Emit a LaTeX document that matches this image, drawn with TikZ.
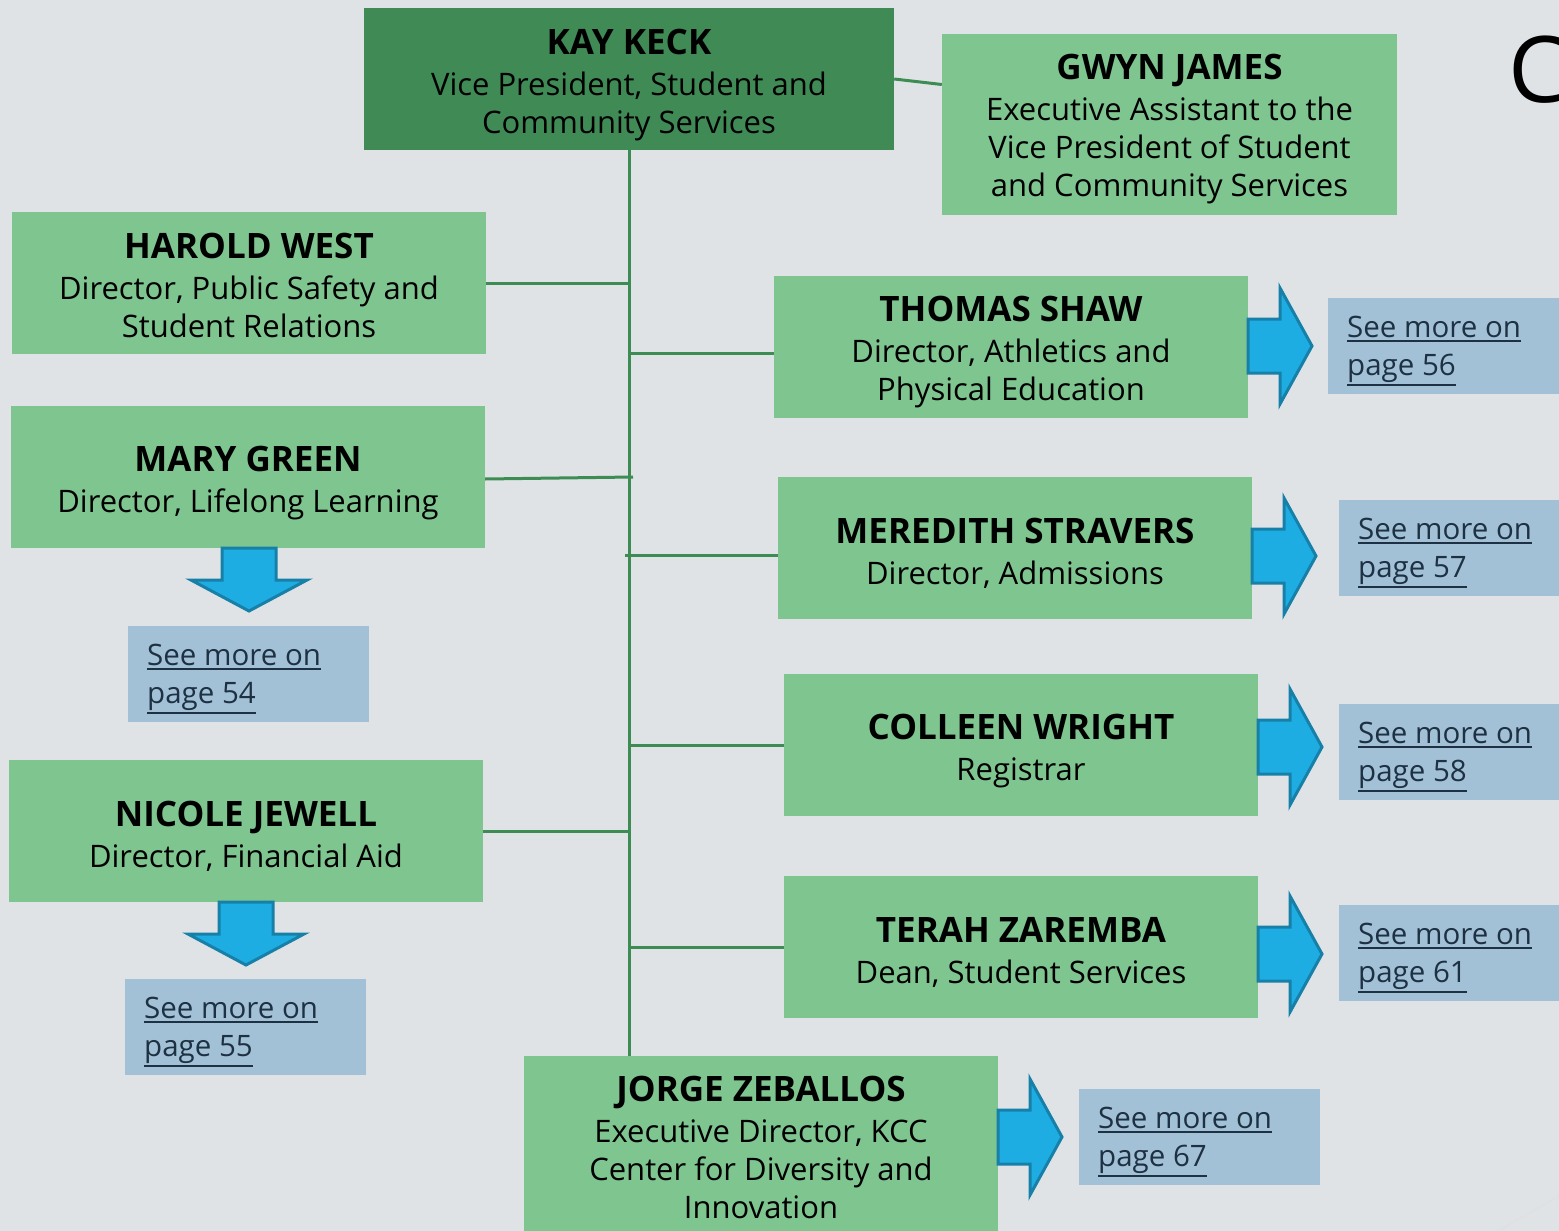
\documentclass[tikz,border=0pt]{standalone}
\usepackage{fontspec}
\setmainfont{Open Sans}
\usetikzlibrary{calc}
\definecolor{bg}{HTML}{DFE3E6}
\definecolor{dgreen}{HTML}{3F8A55}
\definecolor{lgreen}{HTML}{7FC590}
\definecolor{connc}{HTML}{3C8C54}
\definecolor{linkbg}{HTML}{A2C1D7}
\definecolor{linktxt}{HTML}{1E3142}
\definecolor{arrfill}{HTML}{1EADE3}
\definecolor{arrline}{HTML}{1780A8}
\newcommand\nmfont{\fontsize{35}{40}\selectfont\bfseries}
\newcommand\ulx[1]{\leavevmode\setbox0\hbox{#1}\rlap{\rule[-\dimexpr\dp0+4pt\relax]{\wd0}{2pt}}\box0}
\newcommand\rarrow[2]{\draw[arrowshape] (#1,#2) ++(0,-27) -- ++(32,0) -- ++(0,-31) -- ++(32,58) -- ++(-32,58) -- ++(0,-31) -- ++(-32,0) -- cycle;}
\newcommand\darrow[2]{\draw[arrowshape] (#1,#2) ++(-27,0) -- ++(0,32) -- ++(-31,0) -- ++(58,31) -- ++(58,-31) -- ++(-31,0) -- ++(0,-32) -- cycle;}
\begin{document}
\begin{tikzpicture}[x=1pt,y=-1pt,
  orgbox/.style={fill=lgreen, inner sep=0pt, minimum width=474pt, minimum height=142pt},
  orgtxt/.style={inner sep=0pt, align=center, text=black, font=\fontsize{31}{38}\selectfont},
  linkbox/.style={fill=linkbg, inner sep=0pt, minimum width=241pt, minimum height=96pt, anchor=north west},
  linktext/.style={inner sep=0pt, align=left, anchor=west, text=linktxt, font=\fontsize{29.5}{38}\selectfont},
  conn/.style={draw=connc, line width=3pt},
  arrowshape/.style={fill=arrfill, draw=arrline, line width=3pt, line join=miter}]
\useasboundingbox (0,0) rectangle (1559,1231);
\fill[bg] (0,0) rectangle (1559,1231);
\draw[black!12, line width=1.5pt] (1498,1231) -- (1559,1196);
\node[text=black, font=\fontsize{92}{92}\selectfont, anchor=west, inner sep=0pt] (cc) at (1508,70) {C};

% boxes
\node[orgbox, fill=dgreen, minimum width=530pt] (kay) at (629,79) {};
\node[orgbox, minimum width=455pt, minimum height=181pt] (gwyn) at (1169.5,124.5) {};
\node[orgbox] (harold) at (249,283) {};
\node[orgbox] (mary) at (248,477) {};
\node[orgbox] (nicole) at (246,831) {};
\node[orgbox] (thomas) at (1011,347) {};
\node[orgbox] (meredith) at (1015,548) {};
\node[orgbox] (colleen) at (1021,745) {};
\node[orgbox] (terah) at (1021,947) {};
\node[orgbox, minimum height=190pt] (jorge) at (761,1151) {};

% texts
\node[orgtxt] (kayt) at ($(kay)+(0,6)$) {{\nmfont KAY KECK}\\[3pt]Vice President, Student and\\Community Services};
\node[orgtxt] (gwynt) at ($(gwyn)+(0,5)$) {{\nmfont GWYN JAMES}\\[3pt]Executive Assistant to the\\Vice President of Student\\and Community Services};
\node[orgtxt] (haroldt) at ($(harold)+(0,2)$) {{\nmfont HAROLD WEST}\\[3pt]Director, Public Safety and\\Student Relations};
\node[orgtxt] (maryt) at ($(mary)+(0,6)$) {{\nmfont MARY GREEN}\\[3pt]Director, Lifelong Learning};
\node[orgtxt] (nicolet) at ($(nicole)+(0,5)$) {{\nmfont NICOLE JEWELL}\\[3pt]Director, Financial Aid};
\node[orgtxt] (thomast) at ($(thomas)+(0,5)$) {{\nmfont THOMAS SHAW}\\[3pt]Director, Athletics and\\Physical Education};
\node[orgtxt] (mereditht) at ($(meredith)+(0,5)$) {{\nmfont MEREDITH STRAVERS}\\[3pt]Director, Admissions};
\node[orgtxt] (colleent) at ($(colleen)+(0,6)$) {{\nmfont COLLEEN WRIGHT}\\[3pt]Registrar};
\node[orgtxt] (teraht) at ($(terah)+(0,5)$) {{\nmfont TERAH ZAREMBA}\\[3pt]Dean, Student Services};
\node[orgtxt] (jorget) at ($(jorge)+(0,-4)$) {{\nmfont JORGE ZEBALLOS}\\[3pt]Executive Director, KCC\\Center for Diversity and\\Innovation};

% link boxes
\node[linkbox] (l56) at (1328,298) {};
\node[linkbox] (l57) at (1339,500) {};
\node[linkbox] (l58) at (1339,704) {};
\node[linkbox] (l61) at (1339,905) {};
\node[linkbox] (l54) at (128,626) {};
\node[linkbox] (l55) at (125,979) {};
\node[linkbox] (l67) at (1079,1089) {};
\node[linktext] (l56t) at ($(l56.west)+(19,5)$) {\ulx{See more on}\\\ulx{page 56}};
\node[linktext] (l57t) at ($(l57.west)+(19,5)$) {\ulx{See more on}\\\ulx{page 57}};
\node[linktext] (l58t) at ($(l58.west)+(19,5)$) {\ulx{See more on}\\\ulx{page 58}};
\node[linktext] (l61t) at ($(l61.west)+(19,5)$) {\ulx{See more on}\\\ulx{page 61}};
\node[linktext] (l54t) at ($(l54.west)+(19,5)$) {\ulx{See more on}\\\ulx{page 54}};
\node[linktext] (l55t) at ($(l55.west)+(19,5)$) {\ulx{See more on}\\\ulx{page 55}};
\node[linktext] (l67t) at ($(l67.west)+(19,5)$) {\ulx{See more on}\\\ulx{page 67}};

% connectors
\draw[conn] (kay.south) -- (kay.south |- jorge.north);
\draw[conn] (kay.east) -- ($(gwyn.west)+(0,-40)$);
\draw[conn] (harold.east) -- (harold.east -| kay.south);
\draw[conn] ($(mary.east)+(0,2)$) -- ($(mary.east -| kay.south)+(4,0)$);
\draw[conn] (nicole.east) -- (nicole.east -| kay.south);
\draw[conn] ($(thomas.west)+(0,6)$) -- ($(thomas.west -| kay.south)+(0,6)$);
\draw[conn] ($(meredith.west)+(0,7)$) -- ($(meredith.west -| kay.south)+(-4,7)$);
\draw[conn] (colleen.west) -- (colleen.west -| kay.south);
\draw[conn] (terah.west) -- (terah.west -| kay.south);

% arrows
\rarrow{1248}{346}
\rarrow{1252}{556}
\rarrow{1258}{747}
\rarrow{1258}{954}
\rarrow{998}{1137}
\darrow{249}{548}
\darrow{246}{902}
\end{tikzpicture}
\end{document}
